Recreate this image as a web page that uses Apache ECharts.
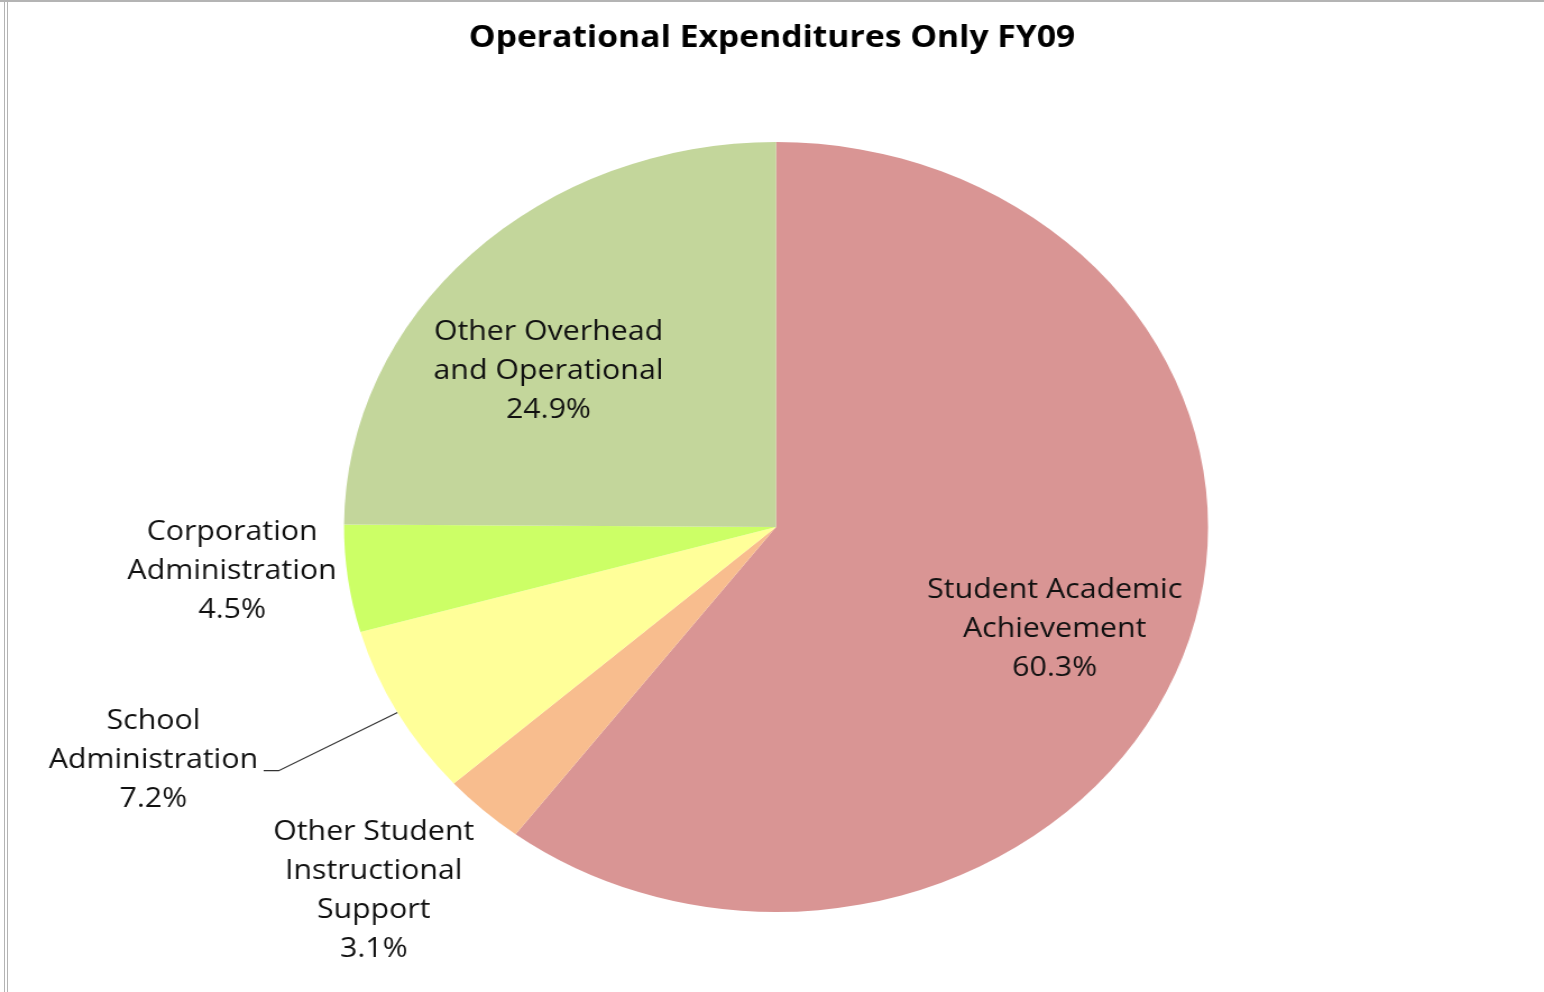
<!DOCTYPE html>
<html>
<head>
<meta charset="utf-8">
<title>Operational Expenditures Only FY09</title>
<script src="https://cdn.jsdelivr.net/npm/echarts@6/dist/echarts.min.js"></script>
<style>
  html, body { margin: 0; padding: 0; background: #fff; overflow: hidden; }
  /* the original picture is stretched sideways, so the chart is drawn narrow and widened */
  #chart { position: absolute; left: 0; top: 0; width: 1376px; height: 992px; transform: scaleX(1.12209); transform-origin: 0 0; }
  .rule { position: absolute; background: #b4b4b4; }
</style>
</head>
<body>
<div id="chart"></div>
<div class="rule" style="left:0;top:0;width:1544px;height:2px"></div>
<div class="rule" style="left:4px;top:0;width:1px;height:992px"></div>
<div class="rule" style="left:7px;top:0;width:1px;height:992px"></div>
<script>
  // data, clockwise from 12 o'clock
  const categories = ['Student Academic Achievement', 'Other Student Instructional Support', 'School Administration', 'Corporation Administration', 'Other Overhead and Operational']
  const labelText = [['Student Academic', 'Achievement'], ['Other Student', 'Instructional', 'Support'], ['School', 'Administration'], ['Corporation', 'Administration'], ['Other Overhead', 'and Operational']]
  const shares = [60.3, 3.1, 7.2, 4.5, 24.9]

  const sliceColors = ['#D99594', '#F8BD8E', '#FFFF99', '#CCFF66', '#C3D69B']
  // where each label sits: inside the slice or out beside it
  const labelPos = ['inside', 'outside', 'outside', 'outside', 'inside']
  // small nudges so the labels land where Excel put them
  const labelShift = [[63, 40], [-3, 81], [0, -10], [-5, -8], [-65, -17]]

  const chart = echarts.init(document.getElementById('chart'))

  const pieData = categories.map((name, i) => {
    const withLine = i === 2
    return {
      name: name,
      value: shares[i],
      itemStyle: { color: sliceColors[i] },
      label: { position: labelPos[i] },
      labelLine: {
        show: withLine,
        length: withLine ? 120.8 : 0,
        length2: withLine ? 13.4 : 0
      }
    }
  })

  const option = {
    animation: false,
    title: {
      text: 'Operational Expenditures Only FY09',
      left: 'center',
      top: 18,
      textStyle: { fontFamily: 'Open Sans', fontWeight: 'bold', fontSize: 30, color: '#000' }
    },
    series: [
      {
        type: 'pie',
        center: [691.6, 527],
        radius: 385,
        startAngle: 90,
        clockwise: true,
        avoidLabelOverlap: false,
        silent: true,
        itemStyle: { borderWidth: 0 },
        emphasis: { disabled: true },
        label: {
          show: true,
          distanceToLabelLine: 5,
          formatter: (p) => {
            const lines = labelText[p.dataIndex].map(t => '{c|' + t + '}')
            lines.push('{c|' + shares[p.dataIndex].toFixed(1) + '%}')
            return lines.join('\n')
          },
          rich: {
            c: { align: 'center', fontFamily: 'Open Sans', fontSize: 27, lineHeight: 39, color: '#111' }
          }
        },
        labelLine: {
          lineStyle: { color: '#333', width: 1.2 },
          smooth: false
        },
        labelLayout: (p) => {
          const s = labelShift[p.dataIndex]
          return { dx: s[0], dy: s[1] }
        },
        data: pieData
      }
    ]
  }

  chart.setOption(option)
</script>
</body>
</html>
